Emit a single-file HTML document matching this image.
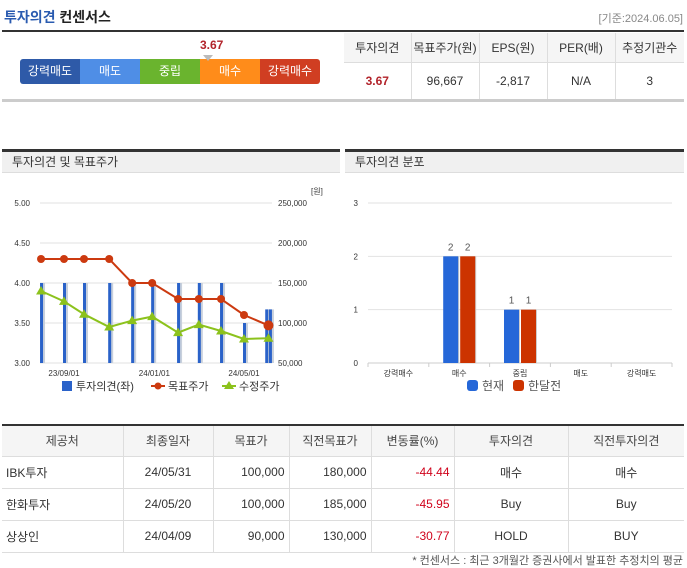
<!DOCTYPE html>
<html><head><meta charset="utf-8">
<style>
*{box-sizing:border-box;margin:0;padding:0}
body{width:687px;height:568px;background:#fff;font-family:"Liberation Sans","Noto Sans CJK KR",sans-serif;color:#333;position:relative;overflow:hidden;font-size:12px}
.abs{position:absolute}
table{border-collapse:collapse}
.tt td{border-left:1px solid #ddd;text-align:center}
.tt td:first-child{border-left:none}
.bt td{border-left:1px solid #ddd;border-bottom:1px solid #ddd;font-size:12px;color:#333}
.bt td:first-child{border-left:none}
.bt tr:first-child td{background:#f5f5f5;text-align:center;color:#444}
</style></head><body>
<div class="abs" style="left:4px;top:7px;font-size:14px;font-weight:bold;color:#222"><span style="color:#2a5bb0">투자의견</span> 컨센서스</div>
<div class="abs" style="right:4px;top:10px;font-size:11px;color:#888">[기준:2024.06.05]</div>
<div class="abs" style="left:2px;top:30px;width:682px;height:2px;background:#333"></div>

<div class="abs" style="left:20px;top:59px;width:300px;height:25px;display:flex;border-radius:3px;overflow:hidden;color:#fff;font-size:12px">
<div style="flex:1;background:#2e5aa8;text-align:center;line-height:25px">강력매도</div>
<div style="flex:1;background:#4f8ee6;text-align:center;line-height:25px">매도</div>
<div style="flex:1;background:#6ab42e;text-align:center;line-height:25px">중립</div>
<div style="flex:1;background:#ff8c1a;text-align:center;line-height:25px">매수</div>
<div style="flex:1;background:#d03e22;text-align:center;line-height:25px">강력매수</div>
</div>
<div class="abs" style="left:200px;top:38px;font-size:12px;font-weight:bold;color:#b2232a">3.67</div>
<div class="abs" style="left:203px;top:55px;width:0;height:0;border-left:5px solid transparent;border-right:5px solid transparent;border-top:6px solid #bbb"></div>

<table class="abs tt" style="left:344px;top:33px;width:340px;font-size:12px">
<tr style="height:29px;background:#f5f5f5"><td style="width:67px">투자의견</td><td style="width:68px">목표주가(원)</td><td style="width:68px">EPS(원)</td><td style="width:68px">PER(배)</td><td>추정기관수</td></tr>
<tr style="height:38px;border-top:1px solid #ddd"><td style="color:#b2232a;font-weight:bold">3.67</td><td>96,667</td><td>-2,817</td><td>N/A</td><td>3</td></tr>
</table>
<div class="abs" style="left:2px;top:99px;width:682px;height:3px;background:#ccc"></div>

<div class="abs" style="left:2px;top:149px;width:338px;height:3px;background:#333"></div>
<div class="abs" style="left:2px;top:152px;width:338px;height:21px;background:#f0f0f0;border-bottom:1px solid #ddd;padding-left:10px;line-height:20px;font-size:12px">투자의견 및 목표주가</div>
<div class="abs" style="left:345px;top:149px;width:339px;height:3px;background:#333"></div>
<div class="abs" style="left:345px;top:152px;width:339px;height:21px;background:#f0f0f0;border-bottom:1px solid #ddd;padding-left:10px;line-height:20px;font-size:12px">투자의견 분포</div>

<svg class="abs" id="lc" style="left:0;top:0" width="687" height="568"></svg>

<table class="abs bt" style="left:2px;top:424px;width:682px;border-top:2px solid #333">
<tr style="height:31px"><td style="width:121px">제공처</td><td style="width:90px">최종일자</td><td style="width:76px">목표가</td><td style="width:82px">직전목표가</td><td style="width:83px">변동률(%)</td><td style="width:114px">투자의견</td><td>직전투자의견</td></tr>
<tr style="height:32px"><td style="padding-left:4px">IBK투자</td><td style="text-align:center">24/05/31</td><td style="text-align:right;padding-right:4px">100,000</td><td style="text-align:right;padding-right:4px">180,000</td><td style="text-align:right;padding-right:4px;color:#d0021b">-44.44</td><td style="text-align:center">매수</td><td style="text-align:center">매수</td></tr>
<tr style="height:32px"><td style="padding-left:4px">한화투자</td><td style="text-align:center">24/05/20</td><td style="text-align:right;padding-right:4px">100,000</td><td style="text-align:right;padding-right:4px">185,000</td><td style="text-align:right;padding-right:4px;color:#d0021b">-45.95</td><td style="text-align:center">Buy</td><td style="text-align:center">Buy</td></tr>
<tr style="height:32px"><td style="padding-left:4px">상상인</td><td style="text-align:center">24/04/09</td><td style="text-align:right;padding-right:4px">90,000</td><td style="text-align:right;padding-right:4px">130,000</td><td style="text-align:right;padding-right:4px;color:#d0021b">-30.77</td><td style="text-align:center">HOLD</td><td style="text-align:center">BUY</td></tr>
</table>
<div class="abs" style="right:4px;top:552px;font-size:11px;color:#555">* 컨센서스 : 최근 3개월간 증권사에서 발표한 추정치의 평균</div>

<script>
const barDates=["2023-08-01","2023-09-01","2023-09-28","2023-11-01","2023-12-02","2023-12-29","2024-02-02","2024-03-01","2024-03-31","2024-05-01","2024-05-31","2024-06-05"];
const opinionValues=[4,4,4,4,4,4,4,4,4,3.5,3.67,3.67];
const lineDates=["2023-08-01","2023-09-01","2023-09-28","2023-11-01","2023-12-02","2023-12-29","2024-02-02","2024-03-01","2024-03-31","2024-05-01","2024-06-03"];
const targetPrices=[180000,180000,180000,180000,150000,150000,130000,130000,130000,110000,97000];
const adjPrices=[140000,127000,111000,95000,103000,108000,88000,98000,90000,80000,81000];
const leftTicks=["3.00","3.50","4.00","4.50","5.00"];
const rightTicks=["50,000","100,000","150,000","200,000","250,000"];
const xTickDates=["2023-09-01","2024-01-01","2024-05-01"];
const xTickLabels=["23/09/01","24/01/01","24/05/01"];
const distCats=["강력매수","매수","중립","매도","강력매도"];
const distNow=[0,2,1,0,0];
const distPrev=[0,2,1,0,0];
const distTicks=[0,1,2,3];

const svg=document.getElementById('lc');const NS='http://www.w3.org/2000/svg';
function mk(t,a,p){const e=document.createElementNS(NS,t);for(const k in a)e.setAttribute(k,a[k]);(p||svg).appendChild(e);return e;}
function txt(x,y,s,a){const e=mk('text',Object.assign({x:x,y:y,'font-size':9,fill:'#333','font-family':'Liberation Sans, Noto Sans CJK KR, sans-serif'},a||{}));e.textContent=s;return e;}
const t0=Date.parse("2023-09-01"),t1=Date.parse("2024-05-01");
const X=d=>64+(Date.parse(d)-t0)/(t1-t0)*180;
const YL=v=>363-(v-3)/2*160;
const YR=v=>363-(v-50000)/200000*160;
// grid
leftTicks.forEach((s,i)=>{const y=YL(+s);mk('line',{x1:40,x2:272,y1:y,y2:y,stroke:'#e2e2e2'});
 const a=txt(30,y+3,s,{'text-anchor':'end','font-size':8});});
rightTicks.forEach((s,i)=>{const v=+s.replace(/,/g,'');const a=txt(278,YR(v)+3,s,{'font-size':8});});
txt(311,194,"[원]",{'font-size':8});
xTickDates.forEach((d,i)=>{const a=txt(X(d),376,xTickLabels[i],{'text-anchor':'middle','font-size':8});});
// bars
barDates.forEach((d,i)=>{const x=X(d),y=YL(opinionValues[i]);
 mk('rect',{x:x+1,y:y,width:3,height:363-y,fill:'#c8d0dc'});
 const b=mk('rect',{x:x-1,y:y,width:3,height:363-y,fill:'#2a62c9'});
 });
// lines
function line(vals,col,name,marker){const pts=lineDates.map((d,i)=>[X(d),YR(vals[i])]);
 const p=mk('polyline',{points:pts.map(p=>p.join(',')).join(' '),fill:'none',stroke:col,'stroke-width':2});
 
 pts.forEach((q,i)=>{let m;if(marker=='c'){m=mk('circle',{cx:q[0],cy:q[1],r:(i==pts.length-1)?5:4,fill:col});}
 else{const r=5;m=mk('polygon',{points:[q[0],q[1]-r,q[0]+r,q[1]+r*0.7,q[0]-r,q[1]+r*0.7].join(' '),fill:col});}
 });}
line(adjPrices,'#8cc21c','adjusted-price-line','t');
line(targetPrices,'#cc3a10','target-price-line','c');
// legend
let g=mk('g',{});
mk('rect',{x:62,y:381,width:10,height:10,fill:'#2a62c9'},g);txt(76,390,"투자의견(좌)",{'font-size':11},);
mk('line',{x1:151,x2:165,y1:386,y2:386,stroke:'#cc3a10','stroke-width':2});mk('circle',{cx:158,cy:386,r:3.5,fill:'#cc3a10'});txt(168,390,"목표주가",{'font-size':11});
mk('line',{x1:222,x2:236,y1:386,y2:386,stroke:'#8cc21c','stroke-width':2});mk('polygon',{points:"229,381 234,389 224,389",fill:'#8cc21c'});txt(239,390,"수정주가",{'font-size':11});
// right chart
const cx0=368,cw=(672-368)/5,YD=v=>363-v/3*160;
distTicks.forEach(v=>{const y=YD(v);if(v>0)mk('line',{x1:368,x2:672,y1:y,y2:y,stroke:'#e2e2e2'});
 const a=txt(358,y+3,String(v),{'text-anchor':'end','font-size':8});});
mk('line',{x1:368,x2:672,y1:363,y2:363,stroke:'#ccc'});
distCats.forEach((c,i)=>{const x=cx0+i*cw;mk('line',{x1:x,x2:x,y1:363,y2:367,stroke:'#ccc'});
 const a=txt(x+cw/2,376,c,{'text-anchor':'middle','font-size':8});
 [[distNow,'#2567d8',-16],[distPrev,'#cc3300',1]].forEach(([arr,col,off])=>{const v=arr[i];if(!v)return;const y=YD(v);
  mk('rect',{x:x+cw/2+off+1,y:y,width:15,height:363-y,fill:'#ccc'});
  const r=mk('rect',{x:x+cw/2+off,y:y,width:15,height:363-y,fill:col});
  
  txt(x+cw/2+off+7.5,y-6,String(v),{'text-anchor':'middle','font-size':10,fill:'#555'});});});
mk('rect',{x:467,y:380,width:11,height:11,rx:3,fill:'#2567d8'});txt(482,390,"현재",{'font-size':12,fill:'#555'});
mk('rect',{x:513,y:380,width:11,height:11,rx:3,fill:'#cc3300'});txt(528,390,"한달전",{'font-size':12,fill:'#555'});
mk('line',{x1:672,x2:672,y1:363,y2:367,stroke:'#ccc'});
</script>
</body></html>
